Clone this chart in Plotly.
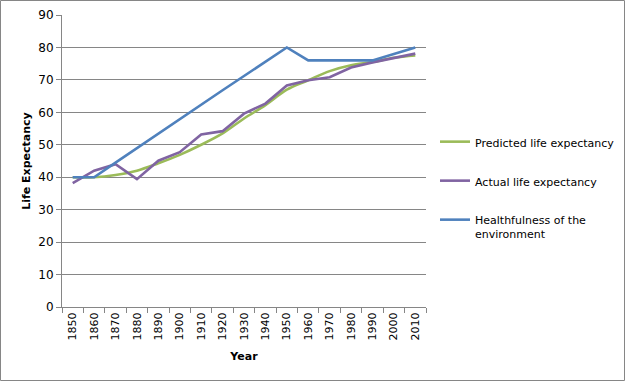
import plotly.graph_objects as go

years = ["1850","1860","1870","1880","1890","1900","1910","1920","1930","1940",
         "1950","1960","1970","1980","1990","2000","2010"]
predicted = [40.0, 40.0, 40.7, 42.0, 44.3, 46.9, 50.0, 53.5, 58.1, 62.2,
             67.0, 69.9, 72.7, 74.5, 75.5, 76.8, 77.5]
actual = [38.2, 42.0, 44.0, 39.4, 45.1, 47.7, 53.2, 54.2, 59.6, 62.7,
          68.3, 69.9, 70.8, 73.8, 75.4, 76.8, 78.1]
health = [40.0, 40.0, 44.5, 49.0, 53.4, 57.8, 62.3, 66.8, 71.2, 75.6,
          80.0, 76.0, 76.0, 76.0, 76.0, 78.0, 80.0]
names = ["Predicted life expectancy", "Actual life expectancy",
         "Healthfulness of the<br>environment"]
colors = ["#9BBB59", "#8064A2", "#4F81BD"]
yticks = [0, 10, 20, 30, 40, 50, 60, 70, 80, 90]

fig = go.Figure()
for i, (vals, shape) in enumerate([(predicted, "spline"), (actual, "linear"), (health, "linear")]):
    fig.add_trace(go.Scatter(x=years, y=vals, mode="lines", name=names[i],
                             line=dict(color=colors[i], width=2.6, shape=shape),
                             legendgroup=str(i)))

W, H = 625, 381
ml, mr, mt, mb = 62, 199, 15, 74
pw, ph = W - ml - mr, H - mt - mb

fig.update_layout(
    width=W, height=H,
    margin=dict(l=ml, r=mr, t=mt, b=mb, autoexpand=False),
    paper_bgcolor="white", plot_bgcolor="white",
    font=dict(family="DejaVu Sans", size=11, color="#000000"),
    showlegend=True,
    legend=dict(x=(435 - ml) / pw, y=1 - (128 - mt) / ph, xanchor="left", yanchor="top",
                traceorder="grouped", tracegroupgap=20, valign="top",
                font=dict(family="DejaVu Sans", size=11),
                itemwidth=30, bgcolor="rgba(0,0,0,0)"),
    xaxis=dict(type="category", range=[-0.5, 16.5], automargin=False,
               showgrid=False, showline=True, linecolor="#868686",
               ticks="outside", tickson="boundaries", ticklen=5, tickcolor="#868686",
               tickangle=-90, tickfont=dict(size=11),
               title=dict(text="<b>Year</b>", font=dict(size=11), standoff=12)),
    yaxis=dict(range=[0, 90], tickvals=yticks, automargin=False,
               showgrid=True, gridcolor="#868686",
               gridwidth=1, showline=True, linecolor="#868686", ticks="outside",
               ticklen=5, tickcolor="#868686", zeroline=False, tickfont=dict(size=12),
               title=dict(text="<b>Life Expectancy</b>", font=dict(size=11), standoff=5)),
    shapes=[dict(type="rect", xref="paper", yref="paper",
                 x0=(0.5 - ml) / pw, x1=(W - 0.5 - ml) / pw,
                 y0=-(mb - 0.5) / ph, y1=1 + (mt - 0.5) / ph,
                 line=dict(color="#868686", width=1), fillcolor="rgba(0,0,0,0)")],
)

fig.write_html("out.html", config={"displayModeBar": False},
               post_script="document.body.style.margin='0';document.body.style.overflow='hidden';")
